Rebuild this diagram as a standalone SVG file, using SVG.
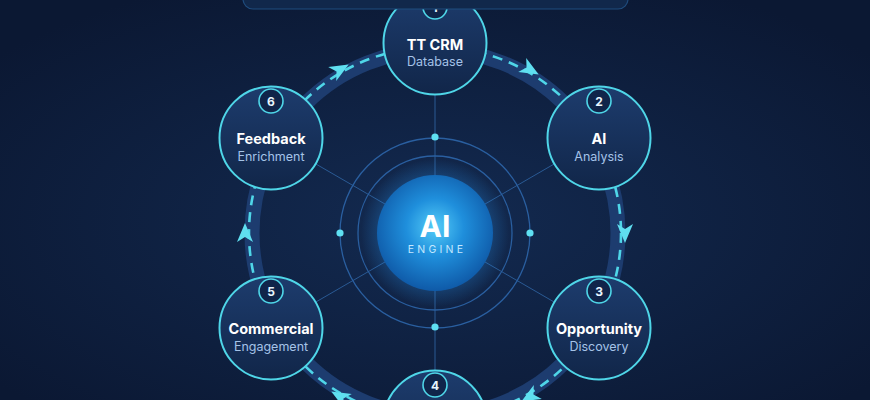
<svg xmlns="http://www.w3.org/2000/svg" width="870" height="400" viewBox="0 0 870 400">
  <defs>
    <radialGradient id="bg" cx="50%" cy="55%" r="65%">
      <stop offset="0" stop-color="#132a50"/>
      <stop offset="1" stop-color="#0b1833"/>
    </radialGradient>
    <linearGradient id="nodeFill" x1="0" y1="0" x2="0" y2="1">
      <stop offset="0" stop-color="#1d3c6d"/>
      <stop offset="1" stop-color="#112649"/>
    </linearGradient>
    <radialGradient id="orb" cx="50%" cy="45%" r="55%">
      <stop offset="0" stop-color="#55cdf8"/>
      <stop offset="0.45" stop-color="#1f8fdc"/>
      <stop offset="1" stop-color="#0f5aa8"/>
    </radialGradient>
    <radialGradient id="halo" cx="50%" cy="50%" r="50%">
      <stop offset="0.6" stop-color="#2aa0ff" stop-opacity="0.35"/>
      <stop offset="1" stop-color="#2aa0ff" stop-opacity="0"/>
    </radialGradient>
    <path id="arrow" d="M10,0 L-9,-8 L-4,0 L-9,8 Z"/>
    <style>
      .node { fill: url(#nodeFill); stroke: #4fd6e8; stroke-width: 2; }
      .badge { fill: #10254a; stroke: #4fd6e8; stroke-width: 1.6; }
      .num { font-family: Inter, "Open Sans", sans-serif; font-weight: 700; font-size: 12px; fill: #e8f6ff; text-anchor: middle; }
      .title { font-family: Inter, "Open Sans", sans-serif; font-weight: 700; font-size: 14.5px; fill: #ffffff; text-anchor: middle; }
      .sub { font-family: Inter, "Open Sans", sans-serif; font-size: 12.5px; fill: #a5c3e8; text-anchor: middle; }
      .ray { stroke: #2a5a94; stroke-width: 1; }
      .ring { fill: none; stroke: #2a5fa0; stroke-width: 1.3; }
      .dot { fill: #5fe0f2; }
      .arr { fill: #5fdff0; }
    </style>
  </defs>

  <rect x="0" y="0" width="870" height="400" fill="url(#bg)"/>

  <g id="connectors">
    <line class="ray" x1="435" y1="233" x2="435" y2="43"/>
    <line class="ray" x1="435" y1="233" x2="435" y2="423"/>
    <line class="ray" x1="435" y1="233" x2="599" y2="138"/>
    <line class="ray" x1="435" y1="233" x2="599" y2="328"/>
    <line class="ray" x1="435" y1="233" x2="271" y2="328"/>
    <line class="ray" x1="435" y1="233" x2="271" y2="138"/>
    <circle cx="435" cy="233" r="183" fill="none" stroke="#1d3c6f" stroke-width="15"/>
    <circle cx="435" cy="233" r="186" fill="none" stroke="#4fd6e8" stroke-width="2.6" stroke-dasharray="10 7"/>
    <use href="#arrow" class="arr" transform="translate(340,69.5) rotate(-30)"/>
    <use href="#arrow" class="arr" transform="translate(530,69.5) rotate(30)"/>
    <use href="#arrow" class="arr" transform="translate(625,233) rotate(90)"/>
    <use href="#arrow" class="arr" transform="translate(530,396.5) rotate(150)"/>
    <use href="#arrow" class="arr" transform="translate(340,396.5) rotate(210)"/>
    <use href="#arrow" class="arr" transform="translate(245,233) rotate(270)"/>
  </g>

  <g id="engine">
    <circle class="ring" cx="435" cy="233" r="95"/>
    <circle class="ring" cx="435" cy="233" r="77"/>
    <circle class="dot" cx="435" cy="137" r="3.6"/>
    <circle class="dot" cx="435" cy="327" r="3.6"/>
    <circle class="dot" cx="340" cy="233" r="3.6"/>
    <circle class="dot" cx="530" cy="233" r="3.6"/>
    <circle cx="435" cy="233" r="74" fill="url(#halo)"/>
    <circle cx="435" cy="233" r="58" fill="url(#orb)"/>
    <text x="435" y="237" font-family="Inter, 'Open Sans', sans-serif" font-weight="700" font-size="30" fill="#ffffff" text-anchor="middle">AI</text>
    <text x="437" y="253" font-family="Inter, 'Open Sans', sans-serif" font-size="10.5" letter-spacing="3.2" fill="#c4e8ff" text-anchor="middle">ENGINE</text>
  </g>

  <g id="node1">
    <circle class="node" cx="435" cy="43" r="51.5"/>
    <circle class="badge" cx="435" cy="7" r="12"/>
    <text class="num" x="435" y="11.5">1</text>
    <text class="title" x="435" y="50">TT CRM</text>
    <text class="sub" x="435" y="66">Database</text>
  </g>
  <g id="node2">
    <circle class="node" cx="599" cy="138" r="51.5"/>
    <circle class="badge" cx="599" cy="101" r="12"/>
    <text class="num" x="599" y="105.5">2</text>
    <text class="title" x="599" y="144">AI</text>
    <text class="sub" x="599" y="161">Analysis</text>
  </g>
  <g id="node3">
    <circle class="node" cx="599" cy="328" r="51.5"/>
    <circle class="badge" cx="599" cy="291" r="12"/>
    <text class="num" x="599" y="295.5">3</text>
    <text class="title" x="599" y="334">Opportunity</text>
    <text class="sub" x="599" y="351">Discovery</text>
  </g>
  <g id="node4">
    <circle class="node" cx="435" cy="422" r="51.5"/>
    <circle class="badge" cx="435" cy="385" r="12"/>
    <text class="num" x="435" y="389.5">4</text>
  </g>
  <g id="node5">
    <circle class="node" cx="271" cy="328" r="51.5"/>
    <circle class="badge" cx="271" cy="291" r="12"/>
    <text class="num" x="271" y="295.5">5</text>
    <text class="title" x="271" y="334">Commercial</text>
    <text class="sub" x="271" y="351">Engagement</text>
  </g>
  <g id="node6">
    <circle class="node" cx="271" cy="138" r="51.5"/>
    <circle class="badge" cx="271" cy="101" r="12"/>
    <text class="num" x="271" y="105.5">6</text>
    <text class="title" x="271" y="144">Feedback</text>
    <text class="sub" x="271" y="161">Enrichment</text>
  </g>

  <g id="header">
    <rect x="243" y="-40" width="385" height="49" rx="10" fill="#11284b" stroke="#1f4c7e" stroke-width="1.2"/>
  </g>
</svg>
